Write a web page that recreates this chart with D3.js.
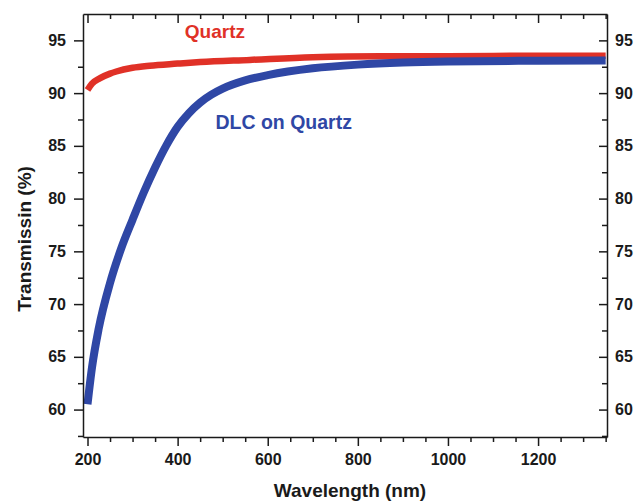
<!DOCTYPE html>
<html>
<head>
<meta charset="utf-8">
<script src="https://cdnjs.cloudflare.com/ajax/libs/d3/7.8.5/d3.min.js"></script>
<style>
  body { margin: 0; background: #fff; }
  svg text { font-family: "Liberation Sans", Arial, sans-serif; font-weight: bold; }
  .axis path, .axis line { stroke: #1a1a1a; stroke-width: 1.5; }
  .axis text { fill: #1a1a1a; font-size: 16px; }
</style>
</head>
<body>
<svg id="chart" width="640" height="501"></svg>
<script>
// values
const quartzWl = [200, 210, 227, 250, 264, 300, 338, 400, 450, 560, 700, 850, 1000, 1200, 1350];
const quartzT = [90.3, 90.9, 91.4, 91.85, 92.05, 92.4, 92.6, 92.8, 92.95, 93.15, 93.4, 93.5, 93.5, 93.55, 93.55];
const dlcWl = [200, 210, 225, 250, 275, 300, 325, 350, 375, 400, 425, 450, 475, 500, 550, 600, 700, 800, 900, 1000, 1200, 1350];
const dlcT = [60.5, 64.0, 67.7, 72.0, 75.3, 78.0, 80.6, 82.95, 85.05, 86.8, 88.1, 89.1, 89.85, 90.42, 91.2, 91.7, 92.35, 92.7, 92.9, 93.0, 93.07, 93.1];
const xTicks = [200, 400, 600, 800, 1000, 1200];
const yTicks = [60, 65, 70, 75, 80, 85, 90, 95];

const svg = d3.select('#chart'),
  margin = { top: 14, right: 33, bottom: 64, left: 83 },
  width = 640 - margin.left - margin.right,
  height = 501 - margin.top - margin.bottom;

const g = svg.append('g').attr('transform', `translate(${margin.left}, ${margin.top})`);

const x = d3.scaleLinear().domain([190, 1353]).range([0, width]);
const y = d3.scaleLinear().domain([57.4, 97.5]).range([height, 0]);

const xMinor = d3.range(200, 1353, 50).filter((v) => v % 200 !== 0);
const yMinor = d3.range(57.5, 97.5, 2.5).filter((v) => v % 5 !== 0);

// curves
const line = d3.line().curve(d3.curveMonotoneX).x((d) => x(d[0])).y((d) => y(d[1]));

g.append('path')
  .datum(quartzWl.map((w, i) => [w, quartzT[i]]))
  .attr('d', line)
  .attr('fill', 'none')
  .attr('stroke', '#e03127')
  .attr('stroke-width', 6.5);

g.append('path')
  .datum(dlcWl.map((w, i) => [w, dlcT[i]]))
  .attr('d', line)
  .attr('fill', 'none')
  .attr('stroke', '#2f47a5')
  .attr('stroke-width', 8);

// axes: major with labels, minor without; inward=true flips ticks into the plot
function addAxis(axisFn, scale, ticks, minor, dx, dy, size, minorSize, labels, inward) {
  const t = `translate(${dx}, ${dy})`;
  const a = g.append('g').attr('class', 'axis').attr('transform', t);
  a.call(axisFn(scale).tickValues(ticks).tickSizeInner(size).tickSizeOuter(0).tickPadding(8)
    .tickFormat(labels ? d3.format('d') : ''));
  const m = g.append('g').attr('class', 'axis').attr('transform', t);
  m.call(axisFn(scale).tickValues(minor).tickSizeInner(minorSize).tickSizeOuter(0).tickFormat(''))
    .select('.domain').remove();
  if (inward) {
    [a, m].forEach((s) => s.selectAll('.tick line').each(function () {
      const ln = d3.select(this);
      if (ln.attr('x2')) ln.attr('x2', -ln.attr('x2'));
      if (ln.attr('y2')) ln.attr('y2', -ln.attr('y2'));
    }));
  }
  return a;
}

addAxis(d3.axisBottom, x, xTicks, xMinor, 0, height, 9, 5, true, false);
addAxis(d3.axisTop, x, xTicks, xMinor, 0, 0, 9, 5, false, true);
addAxis(d3.axisLeft, y, yTicks, yMinor, 0, 0, 9, 5, true, false);
addAxis(d3.axisRight, y, yTicks, yMinor, width, 0, 8, 5, true, true)
  .selectAll('.tick text').attr('x', 8);

// series labels
g.append('text')
  .attr('x', x(416)).attr('y', y(95.25))
  .attr('fill', '#e03127').style('font-size', '19px')
  .text('Quartz');
g.append('text')
  .attr('x', x(484)).attr('y', y(86.6))
  .attr('fill', '#2f47a5').style('font-size', '19.5px')
  .text('DLC on Quartz');

// axis titles
svg.append('text')
  .attr('x', 350).attr('y', 497)
  .attr('text-anchor', 'middle').attr('fill', '#1a1a1a').style('font-size', '19px')
  .text('Wavelength (nm)');
svg.append('text')
  .attr('transform', 'translate(31, 239) rotate(-90)')
  .attr('text-anchor', 'middle').attr('fill', '#1a1a1a').style('font-size', '19px')
  .text('Transmissin (%)');
</script>
</body>
</html>
